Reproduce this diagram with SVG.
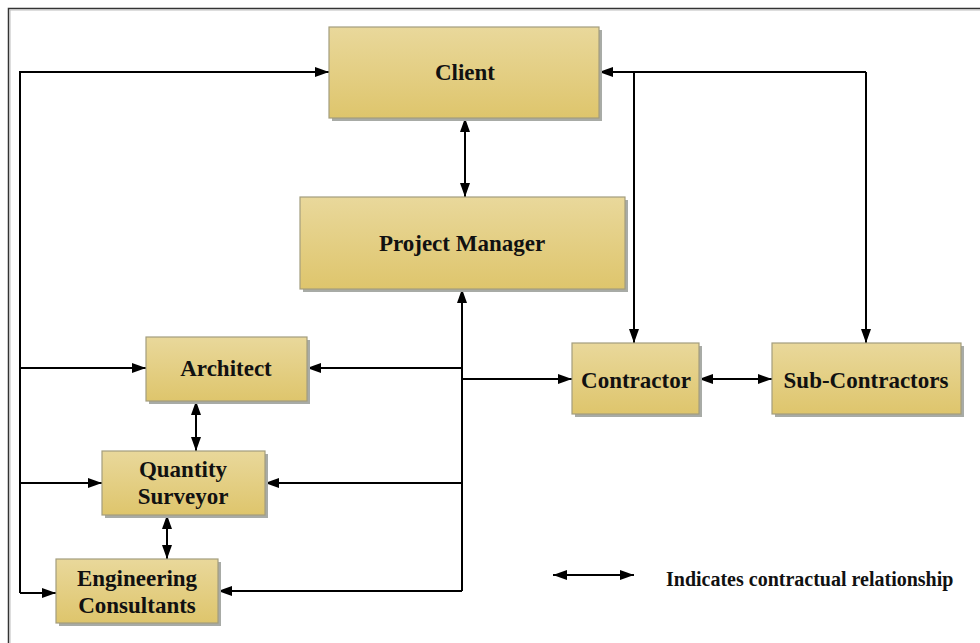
<svg xmlns="http://www.w3.org/2000/svg" width="980" height="643" viewBox="0 0 980 643">
  <defs>
    <linearGradient id="boxFill" x1="0" y1="0" x2="0" y2="1">
      <stop offset="0" stop-color="#e9d89b"/>
      <stop offset="1" stop-color="#dec56c"/>
    </linearGradient>
    <marker id="ah" viewBox="0 0 14 10" refX="14" refY="5" markerWidth="14" markerHeight="10" markerUnits="userSpaceOnUse" orient="auto-start-reverse">
      <path d="M0,0 L14,5 L0,10 Z" fill="#000"/>
    </marker>
    <style>
      .box { fill: url(#boxFill); stroke: #a39d7e; stroke-width: 1.2; }
      .shadow { fill: #a8aba6; }
      .lbl { font-family: "Liberation Serif", "Times New Roman", serif; font-weight: bold; font-size: 23px; fill: #111; text-anchor: middle; }
      .legend { font-family: "Liberation Serif", "Times New Roman", serif; font-weight: bold; font-size: 20px; fill: #111; }
      .ln { fill: none; stroke: #000; stroke-width: 2; }
      .arr { marker-end: url(#ah); }
      .dbl { marker-start: url(#ah); marker-end: url(#ah); }
    </style>
  </defs>

  <rect width="980" height="643" fill="#fff"/>
  <!-- outer frame -->
  <path d="M8.5,660 V8.5 H990" fill="none" stroke="#333" stroke-width="1.5"/>
  <path d="M10,660 V10 H990" fill="none" stroke="#bbb" stroke-width="1"/>

  <g id="connectors">
    <!-- left feed line -->
    <path class="ln" d="M20,593 V72 H329" marker-end="url(#ah)"/>
    <path class="ln arr" d="M20,368 H146"/>
    <path class="ln arr" d="M20,483 H102"/>
    <path class="ln arr" d="M20,593 H56"/>
    <!-- client to project manager -->
    <path class="ln dbl" d="M465,118 V197"/>
    <!-- project manager trunk -->
    <path class="ln arr" d="M462,591 V289"/>
    <path class="ln arr" d="M462,368 H307"/>
    <path class="ln arr" d="M462,483 H265"/>
    <path class="ln arr" d="M462,591 H218"/>
    <path class="ln arr" d="M462,379 H572"/>
    <!-- client to contractors -->
    <path class="ln arr" d="M866,72 H599"/>
    <path class="ln arr" d="M634,72 V343"/>
    <path class="ln arr" d="M866,72 V343"/>
    <path class="ln dbl" d="M699,379 H772"/>
    <!-- consultants chain -->
    <path class="ln dbl" d="M196,401 V451"/>
    <path class="ln dbl" d="M167,515 V559"/>
    <!-- legend -->
    <path class="ln dbl" d="M553,575 H634"/>
  </g>

  <g id="client">
    <rect class="shadow" x="332" y="30" width="270" height="91"/>
    <rect class="box" x="329" y="27" width="270" height="91"/>
    <text class="lbl" x="465" y="80">Client</text>
  </g>
  <g id="project-manager">
    <rect class="shadow" x="303" y="200" width="325" height="92"/>
    <rect class="box" x="300" y="197" width="325" height="92"/>
    <text class="lbl" x="462" y="251">Project Manager</text>
  </g>
  <g id="architect">
    <rect class="shadow" x="149" y="340" width="161" height="64"/>
    <rect class="box" x="146" y="337" width="161" height="64"/>
    <text class="lbl" x="226" y="376">Architect</text>
  </g>
  <g id="quantity-surveyor">
    <rect class="shadow" x="105" y="454" width="163" height="64"/>
    <rect class="box" x="102" y="451" width="163" height="64"/>
    <text class="lbl" x="183" y="477">Quantity</text>
    <text class="lbl" x="183" y="504">Surveyor</text>
  </g>
  <g id="engineering-consultants">
    <rect class="shadow" x="59" y="562" width="162" height="64"/>
    <rect class="box" x="56" y="559" width="162" height="64"/>
    <text class="lbl" x="137" y="586">Engineering</text>
    <text class="lbl" x="137" y="613">Consultants</text>
  </g>
  <g id="contractor">
    <rect class="shadow" x="575" y="346" width="127" height="71"/>
    <rect class="box" x="572" y="343" width="127" height="71"/>
    <text class="lbl" x="636" y="388">Contractor</text>
  </g>
  <g id="sub-contractors">
    <rect class="shadow" x="775" y="346" width="189" height="71"/>
    <rect class="box" x="772" y="343" width="189" height="71"/>
    <text class="lbl" x="866" y="388">Sub-Contractors</text>
  </g>

  <g id="legend">
    <text class="legend" x="666" y="586">Indicates contractual relationship</text>
  </g>
</svg>
